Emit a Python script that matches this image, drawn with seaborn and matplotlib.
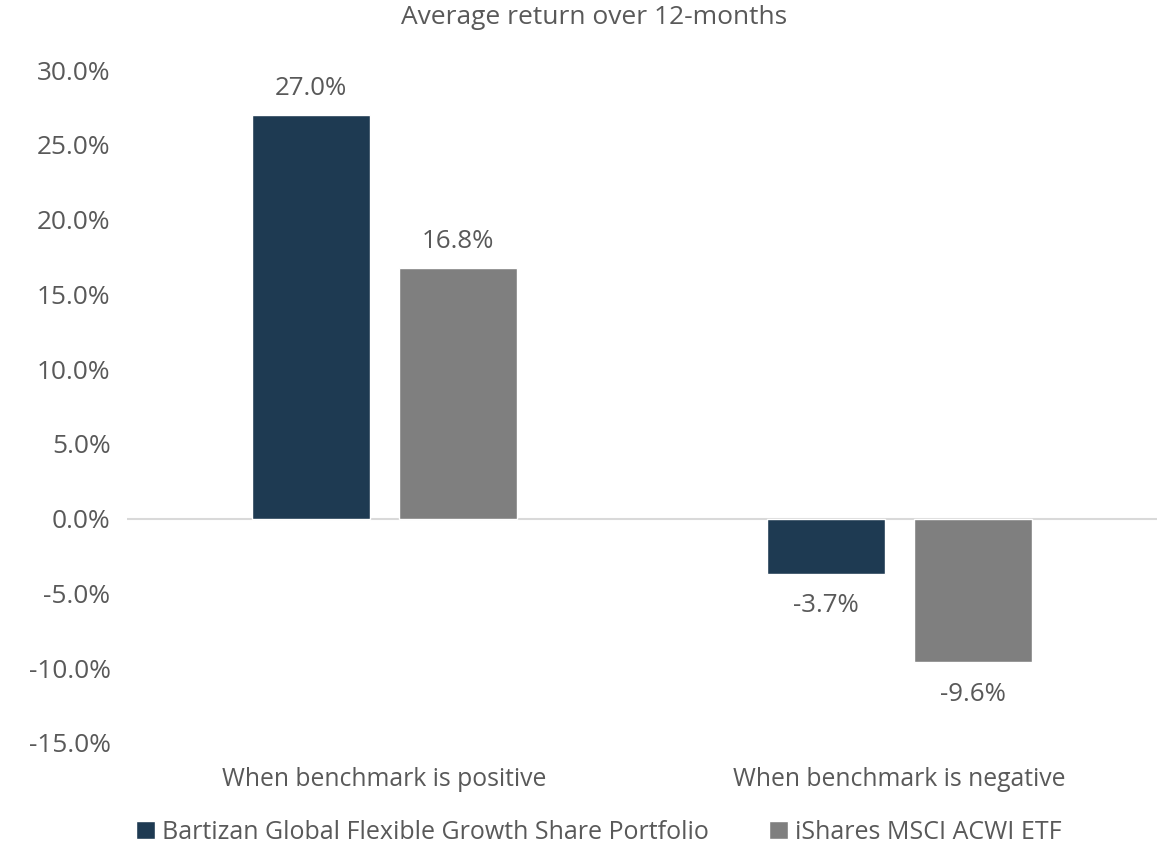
import pandas as pd
import matplotlib.pyplot as plt
import seaborn as sns

# Chart data
categories = ["When benchmark is positive", "When benchmark is negative"]
series = ["Bartizan Global Flexible Growth Share Portfolio", "iShares MSCI ACWI ETF"]
bartizan = [27.0, -3.7]
ishares = [16.8, -9.6]
yticks = [-15, -10, -5, 0, 5, 10, 15, 20, 25, 30]

colors = ["#1E3A52", "#7F7F7F"]
txt = "#595959"

df = pd.DataFrame({
    "category": categories * 2,
    "series": [series[0]] * 2 + [series[1]] * 2,
    "value": bartizan + ishares,
})

sns.set_style("white")
plt.rcParams["font.family"] = ["Open Sans", "DejaVu Sans"]

fig = plt.figure(figsize=(11.71, 8.46), dpi=100)
ax = fig.add_axes([0.1085, 0.1218, 0.8795, 0.7952])

sns.barplot(data=df, x="category", y="value", hue="series", order=categories,
            hue_order=series, palette=colors, width=0.57, gap=0.2,
            saturation=1, ax=ax, legend=True)

# data labels
for cont in ax.containers:
    for bar in cont:
        v = bar.get_height()
        xc = bar.get_x() + bar.get_width() / 2
        off = 19 if v >= 0 else -23
        ax.annotate(f"{v:.1f}%", (xc, v), xytext=(0, off), textcoords="offset points",
                    ha="center", va="center", fontsize=18.6, color=txt)

ax.set_xlim(-0.5, 1.5)
ax.set_ylim(-15, 30)
ax.set_yticks(yticks)
ax.set_yticklabels([f"{t:.1f}%" for t in yticks])
ax.axhline(0, color="#D9D9D9", lw=1.5, zorder=0)
for s in ax.spines.values():
    s.set_visible(False)
ax.tick_params(axis="y", length=0, labelsize=18.9, colors=txt, pad=12)
ax.tick_params(axis="x", length=0, labelsize=17.8, colors=txt, pad=17)
ax.set_xlabel("")
ax.set_ylabel("")
fig.text(594 / 1171, 1 - 18 / 846, "Average return over 12-months", fontsize=19,
         color=txt, ha="center", va="center")

handles, labels = ax.get_legend_handles_labels()
ax.legend(handles, labels, loc="center left", bbox_to_anchor=(136 / 1171, 1 - 832 / 846),
          bbox_transform=fig.transFigure, borderaxespad=0, borderpad=0,
          ncol=2, frameon=False, fontsize=18, handlelength=0.75, handleheight=0.75,
          handletextpad=0.3, columnspacing=2.4, labelcolor=txt)

fig.savefig("out.png", dpi=100)
